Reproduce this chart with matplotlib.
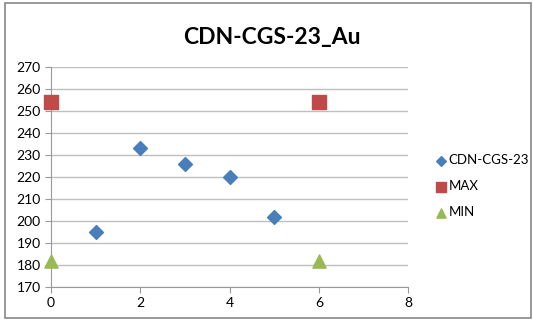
import matplotlib
matplotlib.use("Agg")
import matplotlib.pyplot as plt
from matplotlib.patches import Rectangle

plt.rcParams['font.family'] = ['Lato', 'DejaVu Sans']

# data
sample_x = [1, 2, 3, 4, 5]
sample_y = [195, 233, 226, 220, 202]
max_x = [0, 6]
max_y = [254, 254]
min_x = [0, 6]
min_y = [182, 182]
title = "CDN-CGS-23_Au"

fig = plt.figure(figsize=(5.33, 3.22), dpi=100)
fig.patches.append(Rectangle((0.009, 0.012), 0.987, 0.978, transform=fig.transFigure,
                             fill=False, edgecolor='#888888', linewidth=1.2))
ax = fig.add_axes([0.0957, 0.1087, 0.67, 0.683])

ax.scatter(sample_x, sample_y, marker='D', s=50, color='#4a7ebb', label='CDN-CGS-23',
           zorder=3, clip_on=False)
ax.scatter(max_x, max_y, marker='s', s=90, color='#be4b48', label='MAX', zorder=3, clip_on=False)
ax.scatter(min_x, min_y, marker='^', s=90, color='#98b954', label='MIN', zorder=3, clip_on=False)

ax.set_xlim(0, 8)
ax.set_ylim(170, 270)
ax.set_xticks(range(0, 9, 2))
ax.set_yticks(range(170, 271, 10))
ax.yaxis.grid(True, color='#bfbfbf', linewidth=1)
ax.set_axisbelow(True)
for s in ['top', 'right']:
    ax.spines[s].set_visible(False)
ax.spines['left'].set_color('#999999')
ax.spines['bottom'].set_color('#999999')
ax.tick_params(colors='#999999', labelcolor='black', labelsize=10, length=4, direction='out')

fig.text(0.51, 0.885, title, ha='center', va='center', fontsize=16.5, fontweight='bold')
fig.legend(loc='center left', bbox_to_anchor=(0.79, 0.422), frameon=False, fontsize=9.5,
           handletextpad=0.0, labelspacing=1.05, markerscale=0.7, scatterpoints=1,
           handlelength=1.2)

fig.savefig("out.png", dpi=100)
